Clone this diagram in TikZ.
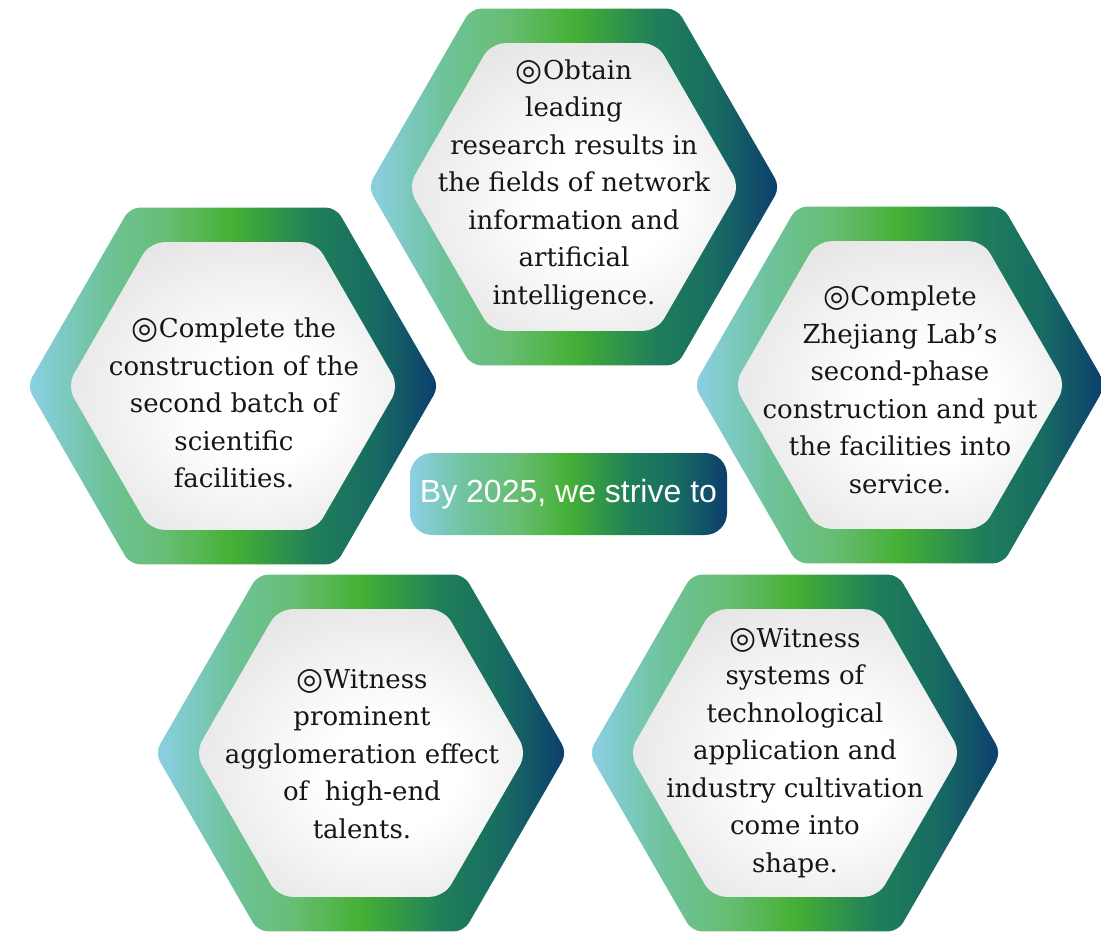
\documentclass[tikz,border=0pt]{standalone}
\usepackage{fontspec}
\setmainfont{DejaVu Serif}
\newfontfamily\symfont{DejaVu Sans}
\newfontfamily\pillfont{Liberation Sans}
\definecolor{cA}{HTML}{8CD0E6}
\definecolor{cB}{HTML}{6EC39C}
\definecolor{cC}{HTML}{67BD72}
\definecolor{cD}{HTML}{45B035}
\definecolor{cE}{HTML}{1F7E5A}
\definecolor{cF}{HTML}{186C62}
\definecolor{cG}{HTML}{0C3D6E}
\definecolor{txt}{HTML}{161616}
\pgfdeclarehorizontalshading{hexgrad}{100bp}{color(0bp)=(cA); color(25bp)=(cA); color(34bp)=(cB); color(42bp)=(cC); color(50bp)=(cD); color(60bp)=(cE); color(67bp)=(cF); color(75bp)=(cG); color(100bp)=(cG)}
\pgfdeclareradialshading{innergrad}{\pgfpoint{6bp}{-4bp}}{color(0bp)=(white); color(10bp)=(white); color(28bp)=(gray!18); color(40bp)=(gray!32); color(50bp)=(gray!38)}
\newcommand\hexring[2]{%
  \shade[shading=hexgrad, rounded corners=10pt]
    (#1,#2-178.4) -- (#1+103,#2-178.4) -- (#1+206,#2) -- (#1+103,#2+178.4)
    -- (#1-103,#2+178.4) -- (#1-206,#2) -- (#1-103,#2-178.4) -- cycle;
  \shade[shading=innergrad, rounded corners=14pt]
    (#1,#2-143.8) -- (#1+83,#2-143.8) -- (#1+166,#2) -- (#1+83,#2+143.8)
    -- (#1-83,#2+143.8) -- (#1-166,#2) -- (#1-83,#2-143.8) -- cycle;
}
\newcommand\bull{{\symfont\fontsize{31}{31}\selectfont\raisebox{-1pt}{◎}}}
\tikzset{
  hextext/.style={align=center, text=txt, inner sep=0pt,
    font=\fontsize{26}{37.5}\selectfont},
  pill/.style={shading=hexgrad, rounded corners=22pt, minimum width=317pt,
    minimum height=82pt, inner sep=0pt, text=white,
    font=\pillfont\fontsize{32}{36}\selectfont}
}
\begin{document}
\begin{tikzpicture}[x=1pt,y=-1pt]
\useasboundingbox (0,0) rectangle (1101,933);
\hexring{574}{187}
\hexring{233}{386}
\hexring{900}{385}
\hexring{361}{753}
\hexring{795}{753}
\node[hextext] (top) at (574,185) {\bull Obtain\\ leading\\ research results in\\ the fields of network\\ information and\\ artificial\\ intelligence.};
\node[hextext] (left) at (234,403) {\bull Complete the\\ construction of the\\ second batch of\\ scientific\\ facilities.};
\node[hextext] (right) at (900,390) {\bull Complete\\ Zhejiang Lab’s\\ second-phase\\ construction and put\\ the facilities into\\ service.};
\node[hextext] (botleft) at (362,754) {\bull Witness\\ prominent\\ agglomeration effect\\ of~ high-end\\ talents.};
\node[hextext] (botright) at (795,753) {\bull Witness\\ systems of\\ technological\\ application and\\ industry cultivation\\ come into\\ shape.};
\node[pill] (goal) at (568.5,494) {By 2025, we strive to};
\end{tikzpicture}
\end{document}
